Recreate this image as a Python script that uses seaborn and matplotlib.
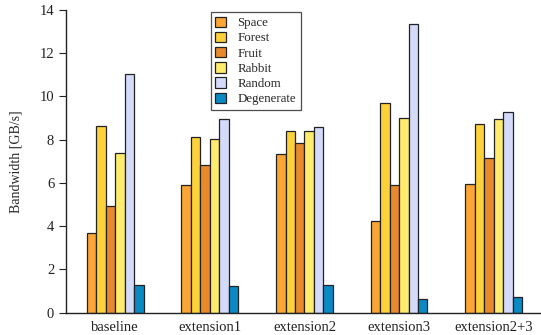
import matplotlib
matplotlib.use("Agg")
import matplotlib.pyplot as plt
import seaborn as sns
import pandas as pd

configs = ["baseline", "extension1", "extension2", "extension3", "extension2+3"]
series = ["Space", "Forest", "Fruit", "Rabbit", "Random", "Degenerate"]

space = [3.68, 5.92, 7.33, 4.23, 5.96]
forest = [8.65, 8.12, 8.40, 9.69, 8.72]
fruit = [4.95, 6.85, 7.87, 5.90, 7.15]
rabbit = [7.40, 8.03, 8.40, 9.00, 8.95]
random_ = [11.05, 8.95, 8.58, 13.36, 9.29]
degenerate = [1.27, 1.22, 1.27, 0.62, 0.71]

colors = ["#FBA535", "#FDD13A", "#E8892E", "#FFEB6E", "#D4DAF9", "#0A8AC4"]

values = [space, forest, fruit, rabbit, random_, degenerate]
rows = []
for name, vals in zip(series, values):
    for cfg, v in zip(configs, vals):
        rows.append({"config": cfg, "series": name, "bw": v})
df = pd.DataFrame(rows)

sns.set_style("ticks")
plt.rcParams["font.family"] = ["Liberation Serif", "DejaVu Serif"]

fig = plt.figure(figsize=(5.41, 3.35), dpi=100)
ax = fig.add_axes([0.122, 0.0666, 0.878, 0.9035])

sns.barplot(data=df, x="config", y="bw", hue="series", order=configs,
            hue_order=series, palette=colors, width=0.6, gap=0,
            edgecolor="#222222", linewidth=0.9, saturation=1, ax=ax,
            errorbar=None)

ax.set_xlim(-0.52, 4.5)
ax.set_ylim(0, 14)
ax.set_yticks(range(0, 15, 2))
ax.set_xlabel("")
ax.set_ylabel("Bandwidth [GB/s]", fontsize=10, labelpad=12)
ax.tick_params(axis="y", direction="out", length=5, width=0.8, labelsize=10.5, colors="#222222")
ax.tick_params(axis="x", length=0, labelsize=10.5, pad=6, colors="#222222")
for s in ["top", "right"]:
    ax.spines[s].set_visible(False)
for s in ["left", "bottom"]:
    ax.spines[s].set_color("#222222")
    ax.spines[s].set_linewidth(1.0)

leg = ax.legend(loc="upper left", bbox_to_anchor=(0.305, 0.993), frameon=True,
                fancybox=False, edgecolor="#222222", fontsize=9.3,
                handlelength=0.85, handleheight=0.85, handletextpad=0.85,
                labelspacing=0.2, borderpad=0.35, borderaxespad=0)
leg.get_frame().set_linewidth(0.9)

fig.savefig("out.png", dpi=100)
